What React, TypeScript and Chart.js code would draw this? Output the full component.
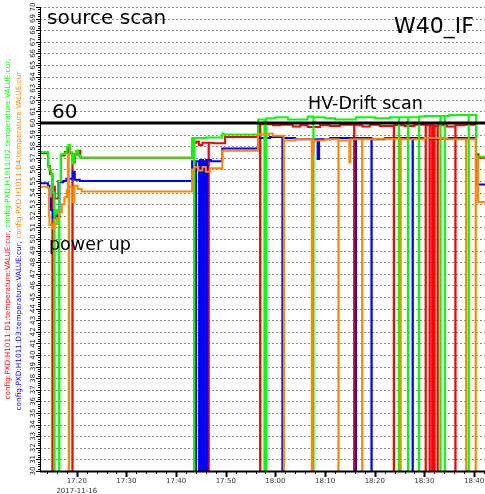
import React, { useEffect, useRef } from 'react';
import { Chart, registerables } from 'chart.js';

Chart.register(...registerables);

// x values are minutes after 17:00 on 2017-11-16
const xMin = 12.6;
const xMax = 102.2;
const xTickMinutes = [20, 30, 40, 50, 60, 70, 80, 90, 100];
const xTickLabels = ['17:20', '17:30', '17:40', '17:50', '18:00', '18:10', '18:20', '18:30', '18:40'];
const dateLabel = '2017-11-16';
const yTickValues = [30, 31, 32, 33, 34, 35, 36, 37, 38, 39, 40, 41, 42, 43, 44, 45, 46, 47, 48, 49, 50, 51, 52, 53, 54, 55, 56, 57, 58, 59, 60, 61, 62, 63, 64, 65, 66, 67, 68, 69, 70];

const seriesNames = [
  'config:PXD:H1011:D1:temperature:VALUE:cur',
  'config:PXD:H1011:D3:temperature:VALUE:cur',
  'config:PXD:H1011:D2:temperature:VALUE:cur',
  'config:PXD:H1011:D4:temperature:VALUE:cur',
];
const seriesColors = ['#ff0000', '#0000ff', '#00ff00', '#ff8800'];

// [minute, temperature]
const d1Points: [number, number][] = [
  [12.6, 57.4], [14.2, 56.3], [14.6, 55.6], [15.09, 0], [15.14, 54.5], [15.6, 53.5], [16.3, 55.0], [16.8, 57.2],
  [17.6, 57.5], [18.2, 57.9], [18.6, 57.4], [19.11, 0], [19.16, 56.6], [19.6, 57.3], [20.3, 57.6], [20.7, 57.0],
  [43.22, 58.3], [44.1, 58.4], [44.6, 58.1], [45.3, 58.3], [46.54, 0], [46.59, 58.3], [47.5, 58.25], [49.86, 58.8],
  [56.51, 59.8], [56.91, 0], [56.96, 59.9], [59.5, 59.8], [61.0, 59.85], [63.5, 59.7], [65.0, 59.8], [66.5, 59.65],
  [69.0, 59.8], [71.0, 59.75], [73.0, 59.85], [75.84, 0], [75.89, 59.8], [77.5, 59.7], [79.0, 59.85], [81.0, 59.75],
  [83.83, 0], [83.88, 59.8], [86.0, 59.75], [88.0, 59.85], [90.24, 0], [90.29, 59.8], [91.04, 0], [91.09, 59.8],
  [91.55, 0], [91.6, 59.8], [92.01, 0], [92.06, 59.75], [92.65, 0], [92.7, 59.8], [94.5, 59.7], [96.22, 0],
  [96.27, 59.8], [98.0, 59.85], [100.4, 57.3], [100.9, 57.0], [102.2, 57.0],
];
const d3Points: [number, number][] = [
  [12.6, 54.8], [14.2, 54.6], [14.5, 53.5], [14.8, 52.5], [15.2, 51.8], [15.6, 52.2], [16.1, 51.9], [16.5, 54.9],
  [17.3, 55.0], [17.9, 55.2], [19.2, 55.8], [19.6, 55.1], [20.6, 55.0],
  [43.22, 56.7], [43.96, 0], [44.01, 56.7], [44.63, 0], [44.83, 56.8], [45.03, 0], [45.23, 56.8], [45.43, 0],
  [45.63, 56.7], [45.83, 0], [46.03, 56.8], [46.24, 0], [46.3, 56.8], [47.0, 56.7], [49.3, 57.8],
  [56.51, 58.7], [58.9, 58.8], [61.4, 0], [61.45, 58.7], [64.0, 58.6], [68.5, 56.9], [68.8, 58.6], [71.0, 58.7],
  [76.18, 0], [76.23, 58.7], [79.33, 0], [79.38, 58.6], [82.0, 58.7], [87.62, 0], [87.67, 58.7], [91.0, 58.65],
  [95.0, 58.7], [100.4, 54.7], [102.2, 54.7],
];
const d2Points: [number, number][] = [
  [12.6, 57.5], [14.25, 56.2], [14.5, 55.9], [14.9, 55.5], [15.2, 54.0], [15.49, 0], [15.54, 52.5], [16.0, 52.2],
  [16.44, 0], [16.49, 55.0], [16.8, 57.3], [17.5, 57.4], [18.0, 57.9], [18.3, 58.1], [18.6, 57.5], [19.0, 56.5],
  [19.4, 57.2], [19.8, 57.6], [20.3, 57.2], [20.8, 57.0],
  [43.22, 58.7], [43.62, 0], [43.67, 58.7], [46.0, 58.75], [49.3, 59.1], [49.6, 59.0],
  [56.51, 60.3], [57.78, 0], [57.83, 60.3], [58.12, 0], [58.17, 60.4], [60.0, 60.5], [62.5, 60.3], [66.5, 60.55],
  [67.64, 0], [67.69, 60.5], [70.0, 60.4], [72.0, 60.3], [76.2, 60.5], [80.0, 60.4], [83.0, 60.5], [84.84, 0],
  [84.89, 60.5], [86.67, 0], [86.72, 60.5], [88.89, 0], [88.94, 60.55], [90.0, 60.6], [93.2, 0], [93.25, 60.6],
  [94.08, 0], [94.13, 60.6], [95.0, 60.7], [98.9, 0], [98.95, 60.7], [100.4, 57.1], [102.2, 57.1],
];
const d4Points: [number, number][] = [
  [12.6, 54.5], [14.2, 54.4], [14.4, 52.0], [14.5, 51.2], [15.0, 50.9], [15.5, 51.3], [16.0, 51.8], [16.5, 52.3],
  [17.0, 53.0], [17.5, 53.6], [18.0, 54.2], [18.2, 57.3], [18.39, 0], [18.44, 54.5], [19.0, 53.2], [19.5, 54.6],
  [20.2, 54.3], [21.0, 54.1],
  [43.22, 56.0], [43.7, 56.2], [44.5, 55.9], [45.3, 56.2], [46.0, 55.8], [46.8, 56.1], [49.3, 57.6],
  [56.51, 59.0], [58.5, 59.1], [59.5, 58.9], [61.68, 0], [61.73, 58.5], [64.0, 58.6], [67.32, 0], [67.37, 57.4],
  [67.7, 58.5], [70.0, 58.6], [72.68, 0], [72.73, 58.5], [74.9, 56.6], [75.1, 58.6], [77.45, 0], [77.5, 58.6],
  [80.0, 58.65], [85.2, 0], [85.25, 58.6], [90.0, 58.7], [94.0, 58.6], [98.39, 0], [98.44, 58.6], [100.31, 0],
  [100.36, 57.0], [100.8, 53.2], [102.2, 53.2],
];

const FONT = '"DejaVu Sans", sans-serif';

const overlayPlugin = {
  id: 'overlay',
  beforeDatasetsDraw(chart: any) {
    const { ctx, chartArea, scales } = chart;
    const { left, right } = chartArea;
    const y = scales.y;
    ctx.save();
    ctx.strokeStyle = '#8a8a8a';
    ctx.lineWidth = 1;
    ctx.setLineDash([2, 2]);
    for (const v of yTickValues) {
      const py = Math.round(y.getPixelForValue(v)) + 0.5;
      ctx.beginPath();
      ctx.moveTo(left, py);
      ctx.lineTo(right, py);
      ctx.stroke();
    }
    ctx.restore();
  },
  afterDatasetsDraw(chart: any) {
    const { ctx, chartArea, scales } = chart;
    const { left, right, top, bottom } = chartArea;
    const x = scales.x;
    const y = scales.y;
    ctx.save();
    // thick line at 60
    const p60 = y.getPixelForValue(60);
    ctx.strokeStyle = '#000';
    ctx.lineWidth = 3;
    ctx.beginPath();
    ctx.moveTo(left, p60);
    ctx.lineTo(right, p60);
    ctx.stroke();

    // axes
    ctx.lineWidth = 1;
    ctx.beginPath();
    ctx.moveTo(left + 0.5, top);
    ctx.lineTo(left + 0.5, bottom);
    ctx.stroke();
    ctx.lineWidth = 2;
    ctx.beginPath();
    ctx.moveTo(left, bottom + 0.5);
    ctx.lineTo(right, bottom + 0.5);
    ctx.stroke();

    // y ticks
    ctx.lineWidth = 1;
    for (let i = 0; i < yTickValues.length; i++) {
      const v = yTickValues[i];
      const py = Math.round(y.getPixelForValue(v)) + 0.5;
      ctx.beginPath();
      ctx.moveTo(left - 4, py);
      ctx.lineTo(left, py);
      ctx.stroke();
      if (i < yTickValues.length - 1) {
        for (let k = 1; k < 5; k++) {
          const pm = Math.round(y.getPixelForValue(v + k * 0.2)) + 0.5;
          ctx.beginPath();
          ctx.moveTo(left - 2, pm);
          ctx.lineTo(left, pm);
          ctx.stroke();
        }
      }
    }
    // x ticks
    for (let m = Math.ceil(xMin / 2) * 2; m <= xMax; m += 2) {
      const px = Math.round(x.getPixelForValue(m)) + 0.5;
      const major = m % 10 === 0;
      ctx.lineWidth = major ? 2 : 1;
      ctx.beginPath();
      ctx.moveTo(px, bottom);
      ctx.lineTo(px, bottom + (major ? 6 : 3));
      ctx.stroke();
    }

    // y labels (rotated)
    ctx.fillStyle = '#222';
    ctx.font = `7px ${FONT}`;
    ctx.textAlign = 'center';
    ctx.textBaseline = 'middle';
    for (const v of yTickValues) {
      const py = y.getPixelForValue(v);
      ctx.save();
      ctx.translate(33, py);
      ctx.rotate(-Math.PI / 2);
      ctx.fillText(String(v), 0, 0);
      ctx.restore();
    }
    // x labels
    ctx.fillStyle = '#333';
    ctx.font = `7px ${FONT}`;
    for (let i = 0; i < xTickMinutes.length; i++) {
      ctx.fillText(xTickLabels[i], x.getPixelForValue(xTickMinutes[i]), 481);
    }
    ctx.fillText(dateLabel, x.getPixelForValue(xTickMinutes[0]), 491);

    // annotations
    ctx.fillStyle = '#000';
    ctx.textBaseline = 'alphabetic';
    ctx.textAlign = 'left';
    ctx.font = `20px ${FONT}`;
    ctx.fillText('source scan', 47, 24);
    ctx.textAlign = 'right';
    ctx.font = `22px ${FONT}`;
    ctx.fillText('W40_IF', 474, 33);
    ctx.textAlign = 'left';
    ctx.font = `20px ${FONT}`;
    ctx.fillText('60', 52, 118);
    ctx.font = `17.5px ${FONT}`;
    ctx.fillText('HV-Drift scan', 308, 108.5);
    ctx.fillText('power up', 49, 249.5);

    // y axis title: two rotated lines with coloured parts
    ctx.font = `7.3px ${FONT}`;
    ctx.textBaseline = 'middle';
    const lines = [
      { cx: 8, cy: 229, parts: [[seriesNames[0] + ', ', seriesColors[0]], [seriesNames[2] + ',', seriesColors[2]]] },
      { cx: 19, cy: 241, parts: [[seriesNames[1] + ', ', seriesColors[1]], [seriesNames[3], seriesColors[3]]] },
    ];
    for (const ln of lines) {
      const total = ln.parts.reduce((s, p) => s + ctx.measureText(p[0]).width, 0);
      ctx.save();
      ctx.translate(ln.cx, ln.cy);
      ctx.rotate(-Math.PI / 2);
      let cur = -total / 2;
      for (const [txt, col] of ln.parts) {
        ctx.fillStyle = col;
        ctx.fillText(txt, cur, 0);
        cur += ctx.measureText(txt).width;
      }
      ctx.restore();
    }
    ctx.restore();
  },
};

export default function App() {
  const ref = useRef<HTMLCanvasElement | null>(null);
  useEffect(() => {
    if (!ref.current) return;
    const all = [d1Points, d3Points, d2Points, d4Points];
    const orders = [3, 2, 1, 0];
    const chart = new Chart(ref.current, {
      type: 'line',
      data: {
        datasets: all.map((pts, i) => ({
          label: seriesNames[i],
          data: pts.map(([t, v]) => ({ x: t, y: v })),
          borderColor: seriesColors[i],
          backgroundColor: seriesColors[i],
          borderWidth: 2,
          pointRadius: 0,
          stepped: true,
          fill: false,
          order: orders[i],
        })),
      },
      options: {
        animation: false,
        responsive: false,
        layout: { padding: { left: 40, right: 0, top: 7, bottom: 23 } },
        plugins: { legend: { display: false }, tooltip: { enabled: false } },
        scales: {
          x: { type: 'linear', min: xMin, max: xMax, display: false },
          y: { type: 'linear', min: 30, max: 70, display: false },
        },
      },
      plugins: [overlayPlugin],
    } as any);
    return () => chart.destroy();
  }, []);
  return (
    <div style={{ position: 'fixed', left: 0, top: 0, width: 485, height: 494, background: '#fff' }}>
      <canvas ref={ref} width={485} height={494} style={{ width: 485, height: 494, display: 'block' }} />
    </div>
  );
}
